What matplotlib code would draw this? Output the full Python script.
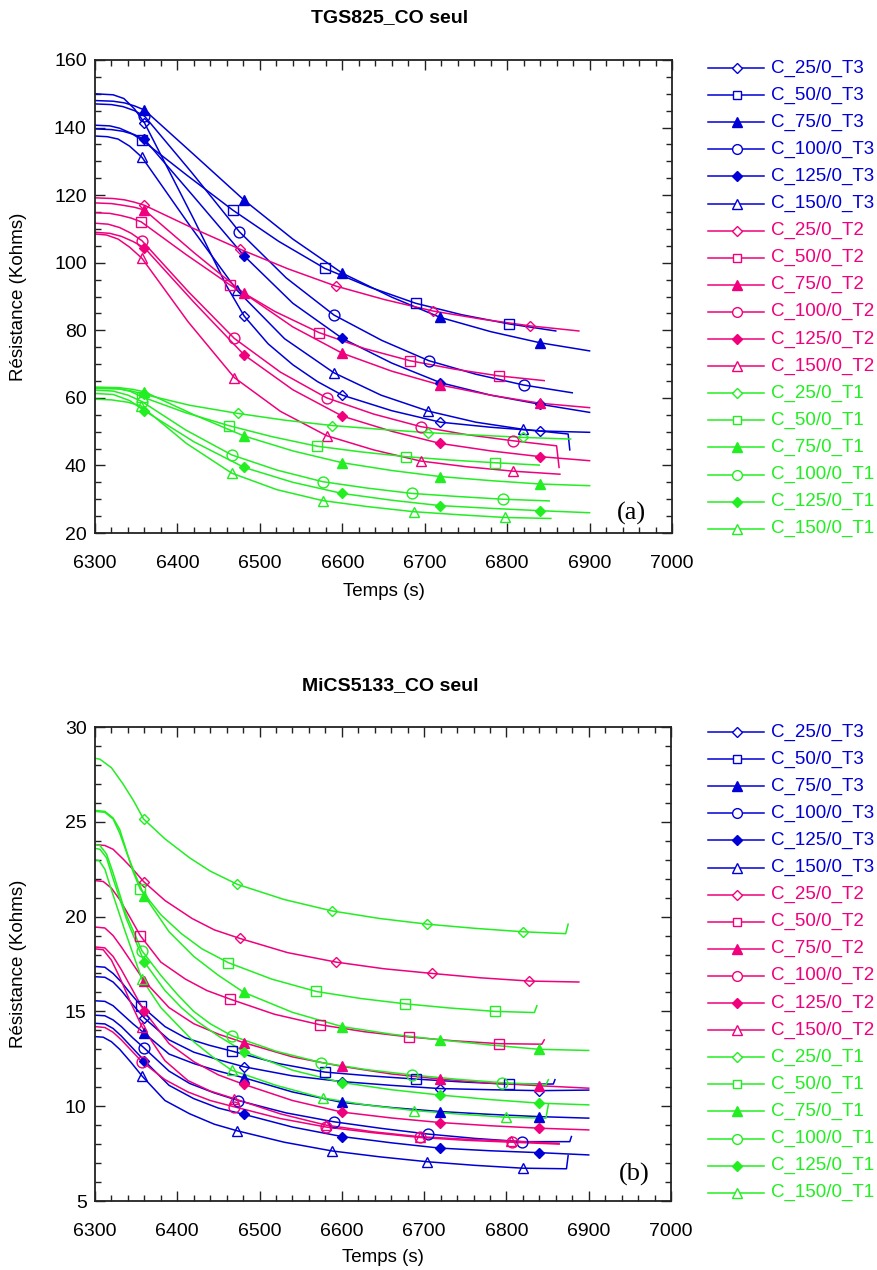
import matplotlib
matplotlib.use('Agg')
import matplotlib.pyplot as plt
from matplotlib.lines import Line2D
from matplotlib.ticker import MultipleLocator

plt.rcParams['font.family'] = ['Liberation Sans', 'DejaVu Sans']

# ---------------- data ----------------
CONCENTRATIONS = ['25', '50', '75', '100', '125', '150']
TEMPS = ['T3', 'T2', 'T1']
TITLES = ['TGS825_CO seul', 'MiCS5133_CO seul']
PANEL_TAGS = ['(a)', '(b)']
X_TICKS = [6300, 6400, 6500, 6600, 6700, 6800, 6900, 7000]
TOP_Y_TICKS = [20, 40, 60, 80, 100, 120, 140, 160]
BOT_Y_TICKS = [5, 10, 15, 20, 25, 30]

# ---- top panel (TGS825): marker points (t, R) and other line points ----
top_T3_mt = [[6360, 6481, 6600, 6719, 6840], [6357, 6467, 6579, 6689, 6802], [6360, 6481, 6600, 6719, 6840],
             [6360, 6475, 6590, 6705, 6820], [6360, 6481, 6600, 6719, 6840], [6357, 6472, 6590, 6704, 6819]]
top_T3_mr = [[141.4, 84.2, 60.8, 52.8, 50.2], [136.3, 115.6, 98.3, 88.0, 81.9], [145.2, 118.5, 96.9, 83.8, 76.3],
             [143.4, 109.2, 84.5, 71.0, 63.8], [136.5, 102.0, 77.6, 64.5, 58.1], [131.2, 91.9, 67.4, 56.1, 50.7]]
top_T3_lt = [[6300, 6322, 6335, 6348, 6420, 6460, 6510, 6540, 6570, 6660, 6780, 6900],
             [6300, 6318, 6330, 6344, 6412, 6523, 6634, 6745, 6859],
             [6300, 6322, 6336, 6348, 6420, 6540, 6660, 6780, 6900],
             [6300, 6320, 6334, 6348, 6418, 6532, 6648, 6762, 6879],
             [6300, 6320, 6334, 6348, 6420, 6540, 6660, 6780, 6900],
             [6300, 6315, 6328, 6342, 6415, 6530, 6647, 6762, 6874, 6876]]
top_T3_lr = [[150.0, 149.7, 148.6, 145.5, 112.8, 93.0, 76.0, 69.8, 64.8, 56.2, 51.3, 49.8],
             [140.7, 140.5, 139.8, 138.3, 125.8, 106.3, 92.7, 84.6, 79.8],
             [148.0, 147.8, 147.3, 146.4, 132.0, 107.0, 89.8, 79.6, 73.9],
             [147.0, 146.8, 146.2, 145.0, 126.5, 95.5, 77.0, 67.0, 61.5],
             [139.6, 139.4, 138.9, 137.9, 119.5, 88.0, 70.3, 60.8, 55.7],
             [137.5, 137.3, 136.6, 134.5, 111.0, 77.5, 60.8, 52.8, 49.3, 44.6]]

top_T2_mt = [[6360, 6476, 6592, 6710, 6828], [6356, 6464, 6572, 6682, 6790], [6360, 6481, 6600, 6719, 6840],
             [6357, 6469, 6581, 6695, 6807], [6360, 6481, 6600, 6719, 6840], [6357, 6469, 6581, 6695, 6807]]
top_T2_mr = [[117.0, 104.0, 93.1, 85.7, 81.3], [112.1, 93.4, 79.3, 71.0, 66.5], [115.6, 90.9, 73.2, 63.8, 58.4],
             [106.5, 77.6, 60.0, 51.5, 47.3], [104.4, 72.7, 54.6, 46.5, 42.6], [101.3, 66.0, 48.8, 41.3, 38.3]]
top_T2_lt = [[6300, 6322, 6336, 6348, 6418, 6534, 6651, 6769, 6887],
             [6300, 6318, 6331, 6344, 6410, 6518, 6627, 6736, 6845],
             [6300, 6320, 6334, 6348, 6420, 6540, 6660, 6780, 6900],
             [6300, 6316, 6330, 6344, 6413, 6525, 6638, 6751, 6860, 6863],
             [6300, 6318, 6332, 6346, 6420, 6540, 6660, 6780, 6900],
             [6300, 6314, 6328, 6342, 6413, 6525, 6638, 6751, 6864]]
top_T2_lr = [[119.2, 119.0, 118.6, 117.9, 110.3, 98.2, 89.1, 83.3, 79.8],
             [114.8, 114.6, 114.0, 113.2, 102.5, 85.6, 74.6, 68.5, 65.1],
             [117.7, 117.5, 117.0, 116.4, 103.0, 81.0, 67.9, 60.8, 57.1],
             [111.7, 111.4, 110.4, 108.7, 91.5, 67.6, 55.2, 49.1, 45.8, 39.4],
             [109.0, 108.7, 107.8, 106.3, 88.3, 62.4, 50.1, 44.3, 41.4],
             [108.5, 108.2, 107.0, 104.6, 82.5, 56.0, 44.6, 39.6, 37.4]]

top_T1_mt = [[6360, 6473, 6588, 6704, 6819], [6357, 6462, 6569, 6677, 6785], [6360, 6481, 6600, 6719, 6840],
             [6357, 6466, 6576, 6685, 6795], [6360, 6481, 6600, 6719, 6840], [6356, 6466, 6576, 6687, 6797]]
top_T1_mr = [[61.0, 55.4, 51.8, 49.7, 48.3], [60.3, 51.8, 45.7, 42.6, 40.8], [61.8, 48.7, 40.8, 36.7, 34.5],
             [58.9, 43.1, 35.2, 31.7, 30.0], [56.2, 39.4, 31.7, 28.1, 26.6], [57.6, 37.7, 29.6, 26.3, 24.6]]
top_T1_lt = [[6300, 6330, 6345, 6415, 6530, 6646, 6761, 6877],
             [6300, 6328, 6343, 6410, 6515, 6623, 6731, 6839],
             [6300, 6330, 6346, 6420, 6540, 6660, 6780, 6900],
             [6300, 6322, 6340, 6410, 6521, 6630, 6740, 6851],
             [6300, 6322, 6342, 6420, 6540, 6660, 6780, 6900],
             [6300, 6320, 6340, 6411, 6521, 6631, 6742, 6853]]
top_T1_lr = [[62.8, 62.6, 62.0, 57.8, 53.4, 50.7, 49.0, 47.8],
             [63.0, 62.8, 61.9, 55.6, 48.5, 44.0, 41.6, 40.1],
             [63.2, 63.0, 62.5, 55.0, 44.3, 38.5, 35.5, 34.0],
             [62.3, 62.0, 60.8, 50.5, 38.6, 33.3, 30.8, 29.5],
             [61.3, 61.0, 59.2, 47.0, 35.0, 29.7, 27.3, 26.0],
             [59.6, 59.4, 58.7, 46.5, 32.8, 27.8, 25.4, 24.3]]

# ---- bottom panel (MiCS5133) ----
bot_T3_mt = [[6360, 6481, 6600, 6719, 6840], [6356, 6467, 6579, 6690, 6803], [6360, 6481, 6600, 6719, 6840],
             [6360, 6474, 6590, 6705, 6819], [6360, 6481, 6600, 6719, 6840], [6357, 6473, 6588, 6704, 6820]]
bot_T3_mr = [[14.65, 12.08, 11.3, 10.93, 10.82], [15.3, 12.9, 11.8, 11.43, 11.16], [13.85, 11.5, 10.2, 9.72, 9.45],
             [13.06, 10.3, 9.18, 8.53, 8.13], [12.4, 9.57, 8.4, 7.79, 7.55], [11.6, 8.7, 7.64, 7.07, 6.73]]
bot_T3_lt = [[6300, 6312, 6322, 6332, 6346, 6390, 6420, 6450, 6540, 6660, 6780, 6900],
             [6300, 6312, 6322, 6332, 6344, 6385, 6410, 6440, 6523, 6634, 6746, 6857, 6859],
             [6300, 6312, 6322, 6332, 6346, 6390, 6420, 6450, 6540, 6660, 6780, 6900],
             [6300, 6312, 6322, 6332, 6346, 6390, 6415, 6445, 6532, 6648, 6762, 6877, 6879],
             [6300, 6312, 6322, 6332, 6346, 6390, 6420, 6450, 6540, 6660, 6780, 6900],
             [6300, 6310, 6320, 6330, 6344, 6385, 6415, 6445, 6530, 6646, 6762, 6873, 6875]]
bot_T3_lr = [[16.83, 16.8, 16.55, 16.1, 15.35, 13.5, 12.85, 12.45, 11.6, 11.1, 10.87, 10.85],
             [17.37, 17.33, 17.0, 16.55, 15.9, 14.2, 13.6, 13.2, 12.25, 11.6, 11.28, 11.17, 11.4],
             [15.56, 15.53, 15.3, 14.9, 14.35, 12.75, 12.25, 11.85, 10.75, 9.93, 9.57, 9.37],
             [14.8, 14.77, 14.55, 14.2, 13.6, 11.85, 11.2, 10.7, 9.65, 8.83, 8.3, 8.13, 8.4],
             [14.37, 14.34, 14.1, 13.7, 13.05, 11.1, 10.4, 9.9, 8.9, 8.07, 7.65, 7.43],
             [13.67, 13.64, 13.4, 13.0, 12.3, 10.3, 9.6, 9.05, 8.1, 7.33, 6.88, 6.7, 7.4]]

bot_T2_mt = [[6359, 6476, 6593, 6710, 6828], [6355, 6464, 6573, 6682, 6791], [6360, 6481, 6600, 6719, 6840],
             [6357, 6469, 6581, 6695, 6807], [6360, 6481, 6600, 6719, 6840], [6357, 6469, 6581, 6695, 6806]]
bot_T2_mr = [[21.85, 18.85, 17.6, 17.0, 16.6], [19.0, 15.65, 14.3, 13.65, 13.3], [16.6, 13.35, 12.1, 11.43, 11.08],
             [12.35, 9.97, 8.9, 8.35, 8.1], [15.0, 11.15, 9.69, 9.14, 8.84], [14.2, 10.4, 9.0, 8.39, 8.16]]
bot_T2_lt = [[6300, 6312, 6322, 6335, 6347, 6385, 6418, 6445, 6534, 6651, 6769, 6888],
             [6300, 6310, 6320, 6330, 6342, 6380, 6410, 6436, 6518, 6627, 6736, 6843, 6846],
             [6300, 6312, 6322, 6332, 6346, 6390, 6420, 6450, 6540, 6660, 6780, 6900],
             [6300, 6312, 6322, 6332, 6345, 6385, 6413, 6440, 6525, 6638, 6751, 6864],
             [6300, 6312, 6322, 6332, 6346, 6390, 6420, 6450, 6540, 6660, 6780, 6900],
             [6300, 6310, 6320, 6330, 6343, 6385, 6413, 6440, 6525, 6638, 6751, 6864]]
bot_T2_lr = [[23.8, 23.75, 23.55, 23.0, 22.45, 20.85, 19.9, 19.3, 18.1, 17.25, 16.77, 16.55],
             [21.9, 21.85, 21.5, 20.9, 20.0, 17.6, 16.7, 16.1, 14.85, 13.93, 13.45, 13.27, 13.5],
             [19.45, 19.4, 19.0, 18.4, 17.5, 15.2, 14.35, 13.8, 12.6, 11.7, 11.22, 10.95],
             [14.2, 14.15, 13.9, 13.5, 12.9, 11.4, 10.75, 10.3, 9.35, 8.6, 8.2, 8.0],
             [18.4, 18.35, 17.9, 17.2, 16.1, 13.3, 12.35, 11.65, 10.3, 9.38, 8.97, 8.75],
             [18.3, 18.25, 17.7, 16.8, 15.5, 12.4, 11.35, 10.8, 9.6, 8.65, 8.26, 8.04]]

bot_T1_mt = [[6359, 6473, 6588, 6704, 6820], [6355, 6462, 6569, 6677, 6786], [6360, 6481, 6600, 6719, 6840],
             [6357, 6466, 6575, 6685, 6795], [6360, 6481, 6600, 6719, 6840], [6357, 6466, 6577, 6688, 6799]]
bot_T1_mr = [[25.15, 21.7, 20.3, 19.6, 19.2], [21.45, 17.57, 16.05, 15.4, 15.0], [21.1, 16.0, 14.2, 13.5, 13.0],
             [18.2, 13.72, 12.3, 11.65, 11.24], [17.6, 12.88, 11.25, 10.59, 10.16], [16.7, 11.9, 10.43, 9.77, 9.42]]
bot_T1_lt = [[6300, 6306, 6320, 6334, 6347, 6385, 6415, 6440, 6530, 6646, 6762, 6872, 6875],
             [6300, 6312, 6322, 6330, 6338, 6346, 6380, 6405, 6430, 6515, 6623, 6731, 6834, 6837],
             [6300, 6312, 6322, 6330, 6340, 6350, 6390, 6420, 6450, 6540, 6660, 6780, 6900],
             [6300, 6306, 6314, 6322, 6337, 6380, 6400, 6420, 6440, 6520, 6630, 6740, 6848, 6851],
             [6300, 6306, 6314, 6322, 6338, 6385, 6405, 6425, 6450, 6540, 6660, 6780, 6900],
             [6300, 6305, 6312, 6320, 6336, 6380, 6400, 6420, 6443, 6520, 6632, 6743, 6848, 6851]]
bot_T1_lr = [[28.35, 28.3, 27.85, 27.0, 26.1, 24.1, 23.1, 22.4, 20.9, 19.9, 19.38, 19.1, 19.6],
             [25.6, 25.55, 25.2, 24.6, 23.5, 22.4, 20.1, 19.1, 18.3, 16.7, 15.68, 15.18, 14.94, 15.3],
             [25.55, 25.5, 25.15, 24.4, 23.2, 22.1, 19.2, 17.9, 16.9, 14.95, 13.8, 13.23, 12.94],
             [23.8, 23.75, 23.3, 22.3, 20.2, 16.9, 15.9, 15.0, 14.35, 12.9, 11.93, 11.42, 11.13, 11.4],
             [23.6, 23.55, 23.1, 22.0, 19.9, 16.1, 15.2, 14.45, 13.7, 11.9, 10.87, 10.35, 10.07],
             [23.0, 22.95, 22.5, 21.4, 19.3, 15.2, 14.3, 13.4, 12.6, 11.1, 10.05, 9.58, 9.37, 10.1]]

# ---------------- styles ----------------
COLORS = {'T3': '#0000d6', 'T2': '#f0007c', 'T1': '#22ee22'}
MARKERS = [('D', False, 5.4), ('s', False, 7.0), ('^', True, 7.5),
           ('o', False, 7.8), ('D', True, 5.4), ('^', False, 7.5)]

W, H = 877, 1270
fig = plt.figure(figsize=(W / 100, H / 100), dpi=100)


def fx(px):
    return px / W


def fy(py):
    return 1 - py / H


panels = [
    dict(box=(95, 60, 672, 533), ylim=(20, 160), yticks=TOP_Y_TICKS, ymin=5,
         data={'T3': (top_T3_mt, top_T3_mr, top_T3_lt, top_T3_lr),
               'T2': (top_T2_mt, top_T2_mr, top_T2_lt, top_T2_lr),
               'T1': (top_T1_mt, top_T1_mr, top_T1_lt, top_T1_lr)},
         title_y=18, xlabel_y=592, leg_y0=68, tag=(0.929, 0.042)),
    dict(box=(95, 727, 671, 1201), ylim=(5, 30), yticks=BOT_Y_TICKS, ymin=1,
         data={'T3': (bot_T3_mt, bot_T3_mr, bot_T3_lt, bot_T3_lr),
               'T2': (bot_T2_mt, bot_T2_mr, bot_T2_lt, bot_T2_lr),
               'T1': (bot_T1_mt, bot_T1_mr, bot_T1_lt, bot_T1_lr)},
         title_y=686, xlabel_y=1257, leg_y0=732, tag=(0.936, 0.056)),
]

for p_i, p in enumerate(panels):
    x0, y0, x1, y1 = p['box']
    ax = fig.add_axes([fx(x0), fy(y1), fx(x1) - fx(x0), fy(y0) - fy(y1)])
    for temp in TEMPS:
        mt, mr, lt, lr = p['data'][temp]
        col = COLORS[temp]
        for i in range(6):
            pts = sorted(zip(lt[i] + mt[i], lr[i] + mr[i]))
            ax.plot([a for a, b in pts], [b for a, b in pts], color=col, lw=1.1,
                    solid_joinstyle='round', zorder=2)
            m, filled, ms = MARKERS[i]
            ax.plot(mt[i], mr[i], ls='none', marker=m, ms=ms, mew=1.0,
                    mec=col, mfc=col if filled else 'none', zorder=3)
    ax.set_xlim(6300, 7000)
    ax.set_ylim(*p['ylim'])
    ax.set_xticks(X_TICKS)
    ax.set_yticks(p['yticks'])
    ax.xaxis.set_minor_locator(MultipleLocator(20))
    ax.yaxis.set_minor_locator(MultipleLocator(p['ymin']))
    ax.tick_params(which='both', direction='in', top=True, right=True,
                   labeltop=False, labelright=False, color='#222222', width=1.0)
    ax.tick_params(which='major', length=7.5)
    ax.tick_params(which='minor', length=4)
    ax.tick_params(axis='x', which='major', pad=16, labelsize=14)
    ax.tick_params(axis='y', which='major', pad=6, labelsize=14)
    for s in ax.spines.values():
        s.set_linewidth(1.3)
        s.set_color('#222222')
    ax.text(p['tag'][0], p['tag'][1], PANEL_TAGS[p_i], transform=ax.transAxes,
            ha='center', va='center', fontsize=19, family=['Liberation Serif', 'DejaVu Serif'])

    fig.text(fx(390), fy(p['title_y']), TITLES[p_i], ha='center', va='center',
             fontsize=14, fontweight='bold')
    fig.text(fx((x0 + x1) / 2), fy(p['xlabel_y']), 'Temps (s)', ha='center', va='center',
             fontsize=13.5)
    fig.text(fx(19), fy((y0 + y1) / 2), 'Résistance (Kohms)', ha='center', va='center',
             rotation=90, fontsize=13.5)

    # legend (manual, to the right of the axes)
    row = 0
    for temp in TEMPS:
        col = COLORS[temp]
        for i, c in enumerate(CONCENTRATIONS):
            yy = fy(p['leg_y0'] + row * 27.1)
            m, filled, ms = MARKERS[i]
            fig.add_artist(Line2D([fx(708), fx(764)], [yy, yy], color=col, lw=1.1,
                                  transform=fig.transFigure))
            fig.add_artist(Line2D([fx(737)], [yy], ls='none', marker=m, ms=ms * 0.9, mew=1.0,
                                  mec=col, mfc=col if filled else 'white',
                                  transform=fig.transFigure))
            fig.text(fx(771), yy, f'C_{c}/0_{temp}', color=col, ha='left', va='center',
                     fontsize=13.5)
            row += 1

fig.savefig('out.png', dpi=100)
